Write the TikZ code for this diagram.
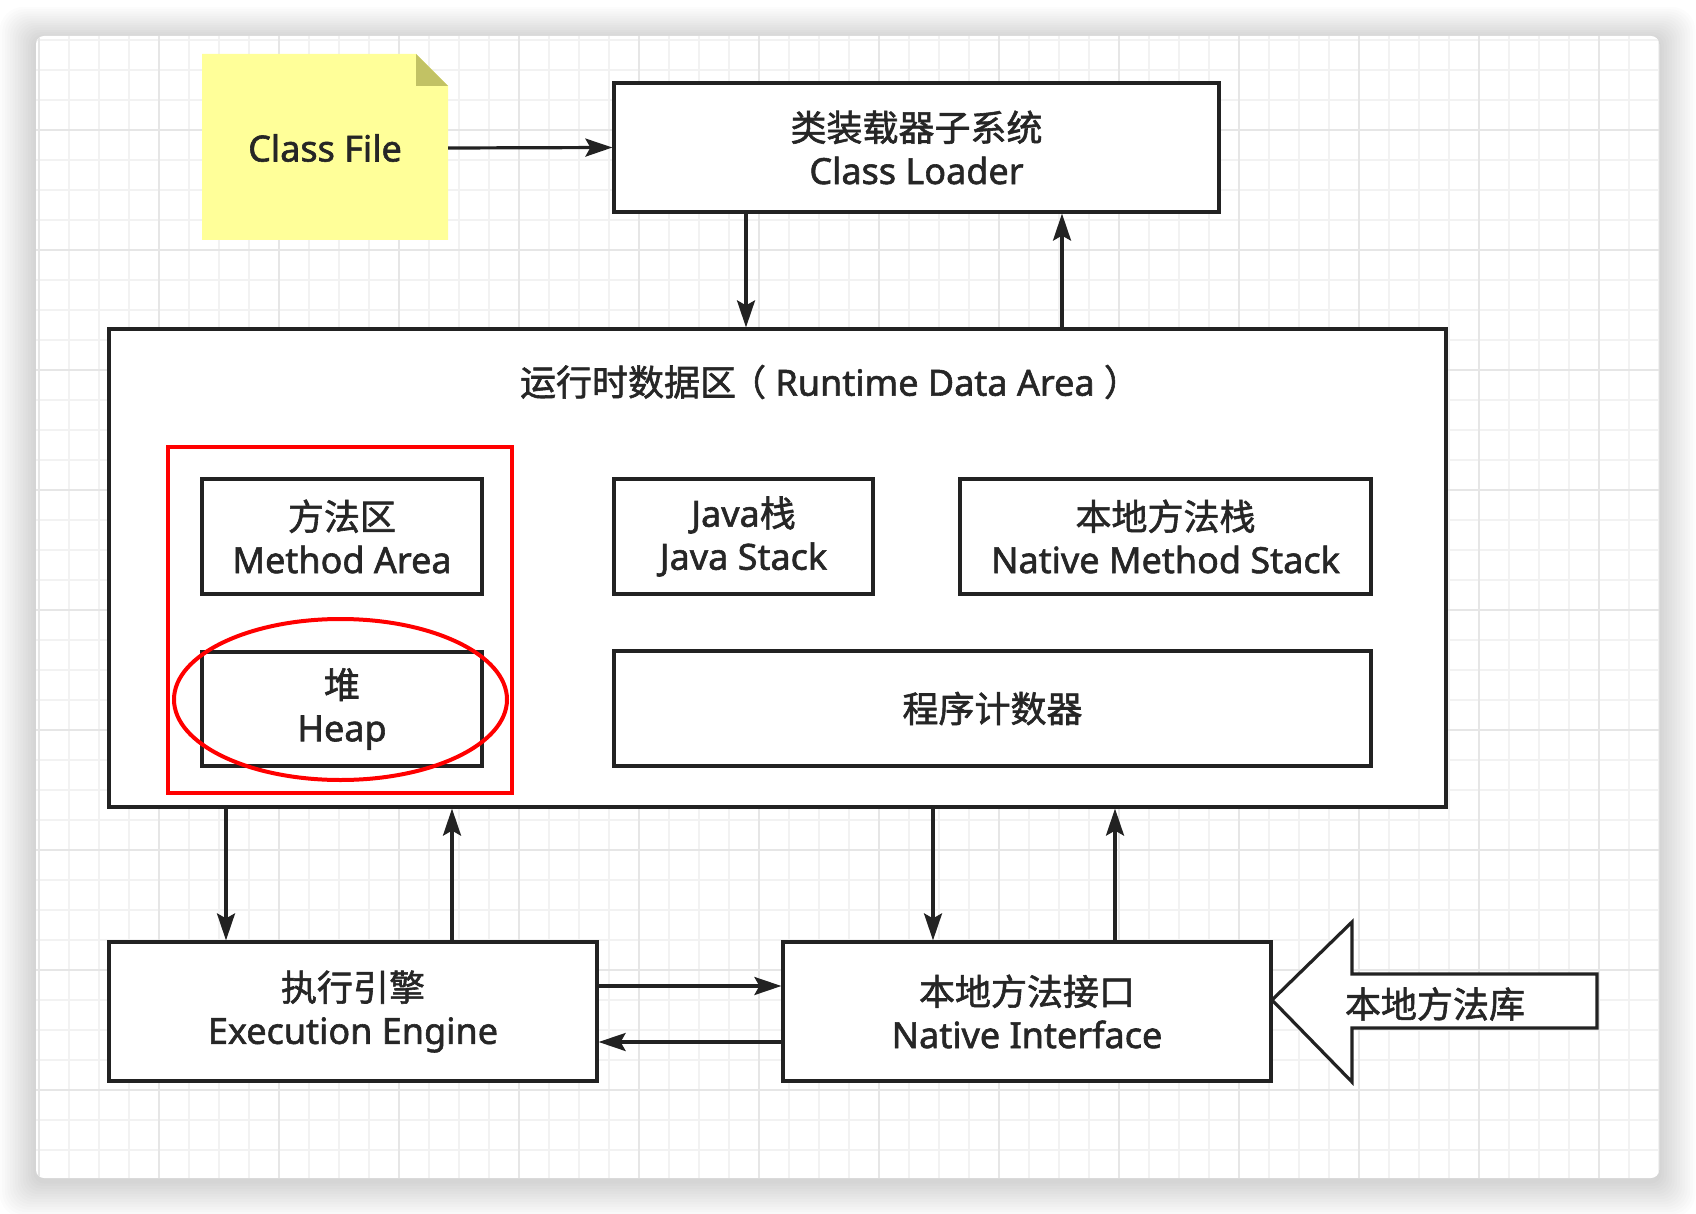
\documentclass[tikz,border=0pt]{standalone}
\usepackage{fontspec}
\setmainfont{Noto Sans}[RawFeature={embolden=1.6}]
\newfontfamily\cjk{Noto Sans CJK SC}[RawFeature={embolden=1.6}]
\usetikzlibrary{arrows.meta,shapes.geometric}
\definecolor{ink}{HTML}{222222}
\definecolor{txt}{HTML}{262626}
\definecolor{gridminor}{HTML}{F2F2F2}
\definecolor{gridmajor}{HTML}{E6E6E6}
\definecolor{notefill}{HTML}{FFFF99}
\definecolor{notefold}{HTML}{C2C264}
\tikzset{
  box/.style={draw=ink, line width=3.2pt, fill=white, rectangle, inner sep=0pt, align=center, text=txt,
    font=\fontsize{36}{43}\selectfont},
  arr/.style={draw=ink, line width=3.2pt, -{Stealth[length=27pt,width=18pt,inset=5pt]}},
  lbl/.style={inner sep=0pt, align=center, text=txt, font=\fontsize{36}{43}\selectfont},
}
\begin{document}
\begin{tikzpicture}[x=1pt,y=-1pt]
\useasboundingbox (0,0) rectangle (1696,1214);
\fill[white] (0,0) rectangle (1696,1214);
% shadow
\foreach \i in {1,...,14}{
  \fill[black, opacity=0.013, rounded corners=10+\i] (36-2.6*\i,36-2.3*\i+3) rectangle (1659+2.6*\i,1178+2.6*\i+3);
}
\fill[white, rounded corners=8] (36,36) rectangle (1659,1178);
\begin{scope}
  \clip[rounded corners=8] (36,36) rectangle (1659,1178);
  \foreach \x in {39,69,...,1659} \draw[gridminor, line width=2pt] (\x,36) -- (\x,1178);
  \foreach \y in {40,70,...,1178} \draw[gridminor, line width=2pt] (36,\y) -- (1659,\y);
  \foreach \x in {39,159,...,1659} \draw[gridmajor, line width=2pt] (\x,36) -- (\x,1178);
  \foreach \y in {10,130,...,1178} \draw[gridmajor, line width=2pt] (36,\y) -- (1659,\y);
\end{scope}
% Class File note
\fill[notefill] (202,54) -- (416,54) -- (448,86) -- (448,240) -- (202,240) -- cycle;
\fill[notefold] (416,54) -- (448,86) -- (416,86) -- cycle;
\node[lbl, minimum width=246pt, minimum height=186pt] (note) at (325,148) {Class File};
% Class Loader
\node[box, minimum width=605pt, minimum height=129pt] (loader) at (916.5,147.5) {{\cjk 类装载器子系统}\\Class Loader};
% Runtime data area
\node[box, minimum width=1337pt, minimum height=478pt] (rt) at (777.5,568) {};
\node[lbl] (rttitle) at (830,382) {{\cjk 运行时数据区\hspace{-6pt}（} Runtime Data Area {\cjk ）}};
\node[draw=red, line width=4.5pt, minimum width=344pt, minimum height=346pt, inner sep=0pt] (focus) at (340,620) {};
\node[box, minimum width=280pt, minimum height=115pt] (method) at (342,536.5) {{\cjk 方法区}\\Method Area};
\node[box, minimum width=280pt, minimum height=114pt] (heap) at (342,709) {{\cjk 堆}\\Heap};
\node[draw=red, line width=4pt, ellipse, minimum width=333pt, minimum height=161pt, inner sep=0pt] (heapmark) at (340.5,699.5) {};
\node[box, minimum width=259pt, minimum height=115pt] (jstack) at (743.5,536.5) {Java{\cjk 栈}\\Java Stack};
\node[box, minimum width=411pt, minimum height=115pt] (nstack) at (1165.5,536.5) {{\cjk 本地方法栈}\\Native Method Stack};
\node[box, minimum width=757pt, minimum height=115pt] (pc) at (992.5,708.5) {\cjk 程序计数器};
% bottom boxes
\node[box, minimum width=488pt, minimum height=139pt] (exec) at (353,1011.5) {{\cjk 执行引擎}\\Execution Engine};
\node[box, minimum width=488pt, minimum height=139pt] (native) at (1027,1011.5) {{\cjk 本地方法接口}\\Native Interface};
% library arrow shape
\filldraw[fill=white, draw=ink, line width=3.2pt, line join=miter]
  (1272,1000) -- (1352,922) -- (1352,974) -- (1597,974) -- (1597,1028) -- (1352,1028) -- (1352,1082) -- cycle;
\node[lbl] (lib) at (1435,1004) {\cjk 本地方法库};
% connectors
\coordinate (xa) at (746,0);
\coordinate (xb) at (1062,0);
\coordinate (xc) at (226,0);
\coordinate (xd) at (452,0);
\coordinate (xe) at (933,0);
\coordinate (xf) at (1115,0);
\coordinate (ya) at (0,986);
\coordinate (yb) at (0,1042);
\draw[arr] (note.east) -- (loader.west);
\draw[arr] (loader.south -| xa) -- (rt.north -| xa);
\draw[arr] (rt.north -| xb) -- (loader.south -| xb);
\draw[arr] (rt.south -| xc) -- (exec.north -| xc);
\draw[arr] (exec.north -| xd) -- (rt.south -| xd);
\draw[arr] (rt.south -| xe) -- (native.north -| xe);
\draw[arr] (native.north -| xf) -- (rt.south -| xf);
\draw[arr] (exec.east |- ya) -- (native.west |- ya);
\draw[arr] (native.west |- yb) -- (exec.east |- yb);
\end{tikzpicture}
\end{document}
